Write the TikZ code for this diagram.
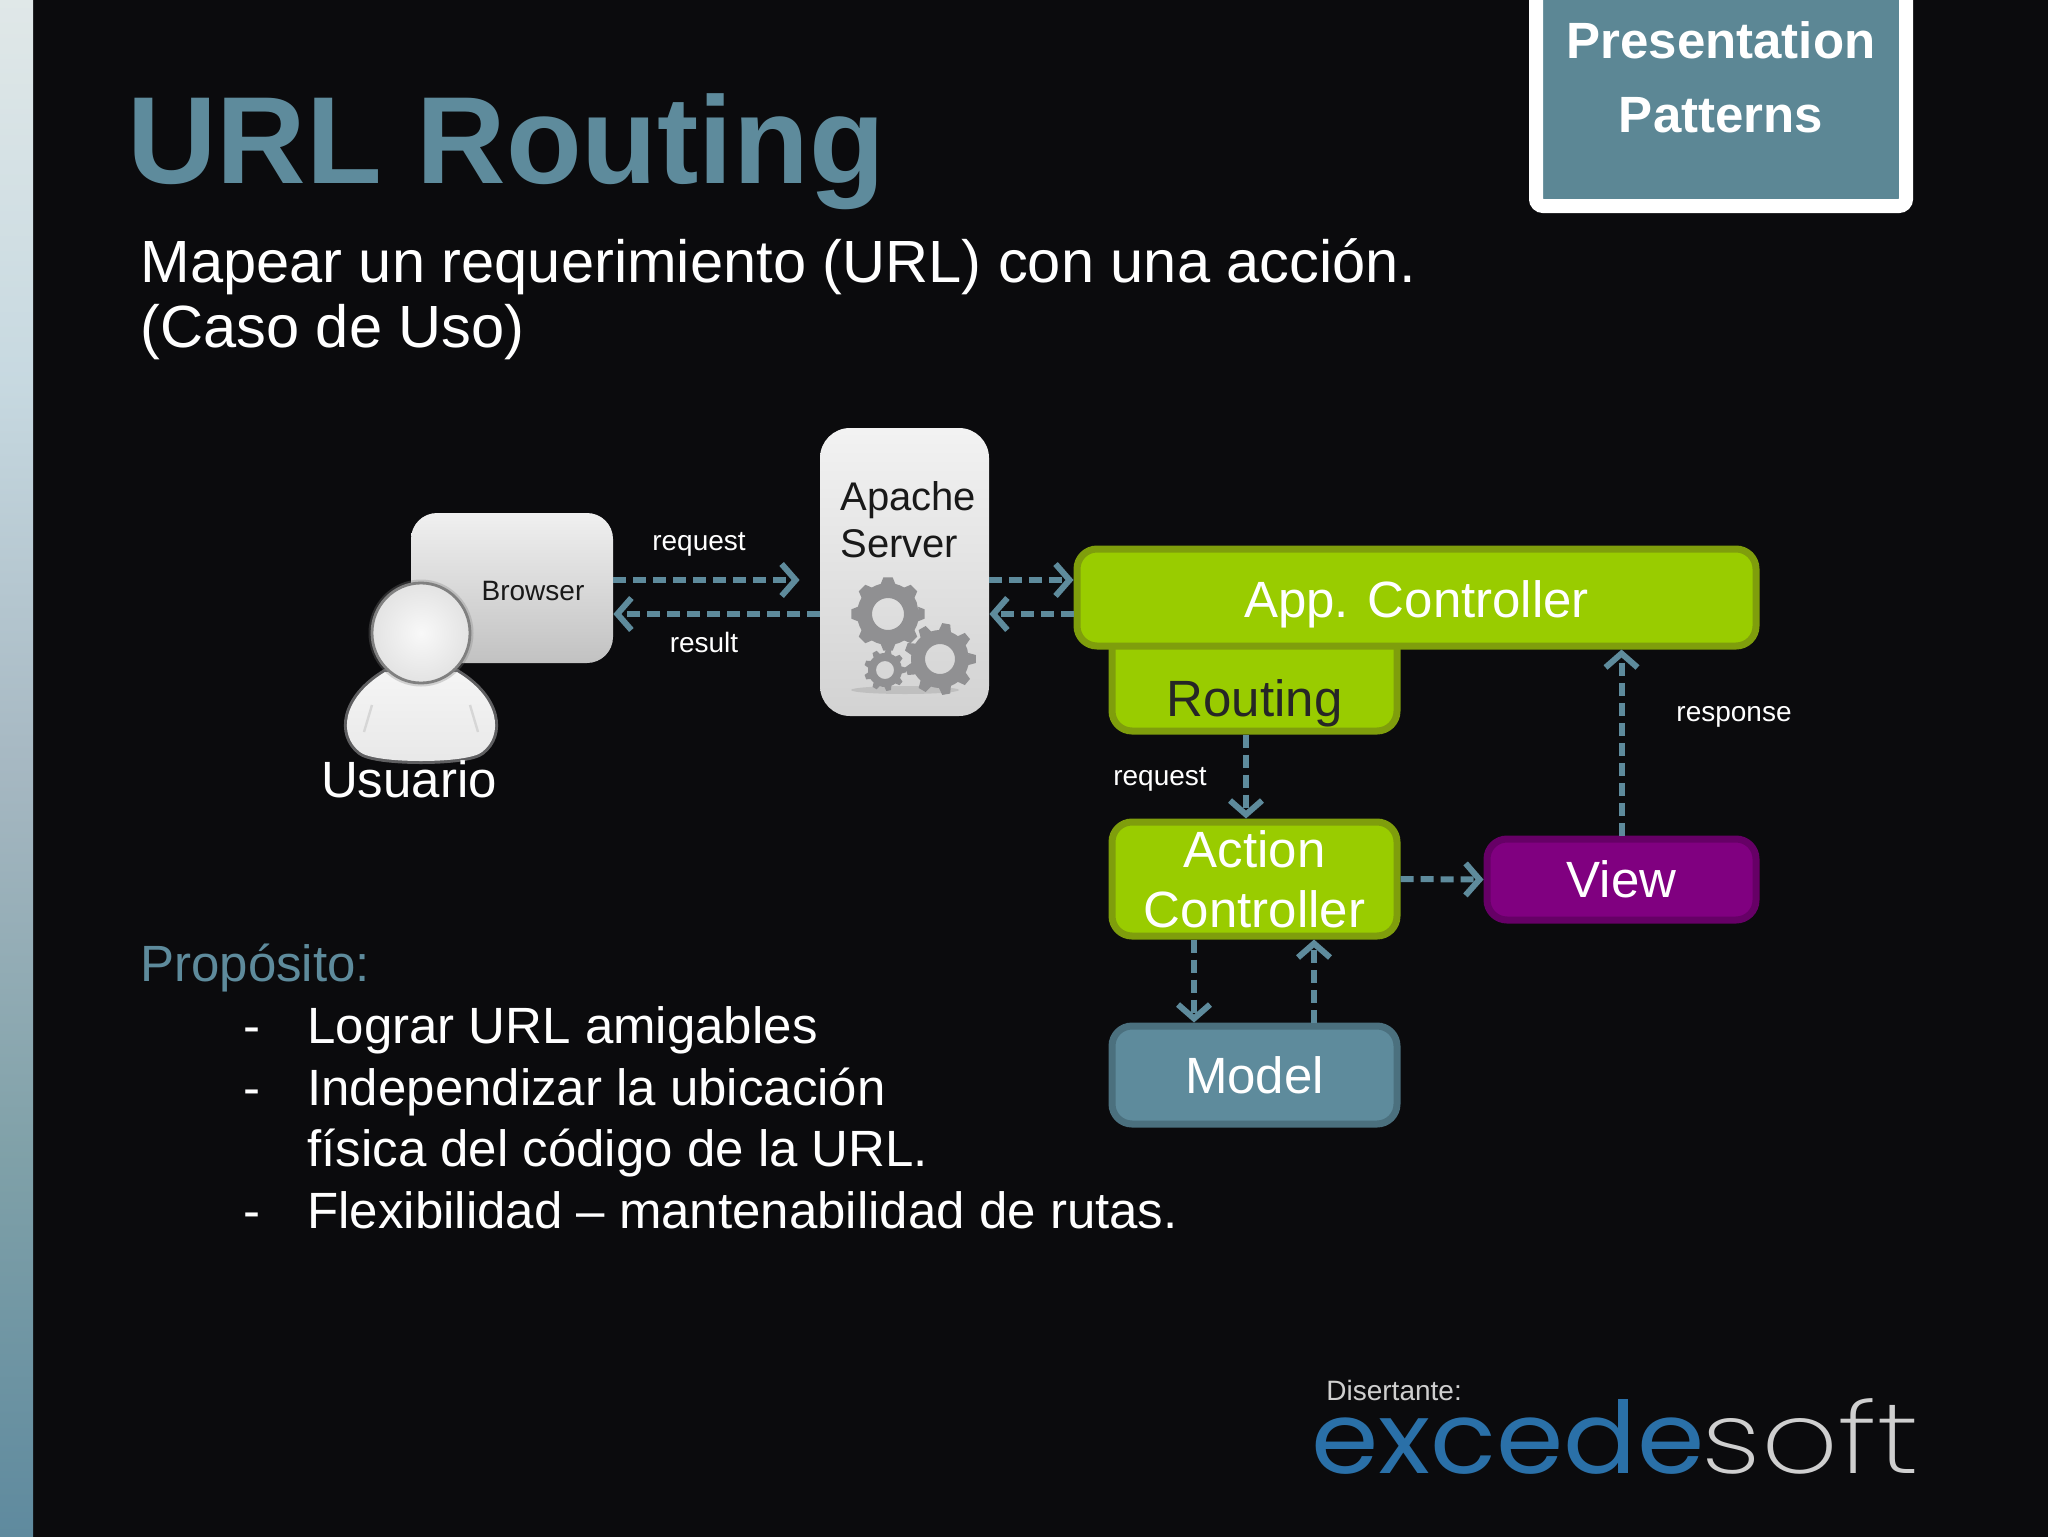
\documentclass[tikz,border=0pt]{standalone}
\usepackage{fontspec}
\setmainfont{Liberation Sans}
\newfontfamily\logoblue{Poppins}
\newfontfamily\logogray{Poppins ExtraLight}
\usetikzlibrary{arrows.meta,calc}
\definecolor{bgc}{HTML}{0B0B0D}
\definecolor{teal}{HTML}{5E8B9C}
\definecolor{presc}{HTML}{5C8795}
\definecolor{tealdk}{HTML}{4B707E}
\definecolor{lime}{HTML}{99CC00}
\definecolor{limedk}{HTML}{7F9E0C}
\definecolor{purp}{HTML}{800080}
\definecolor{purpdk}{HTML}{660066}
\definecolor{logob}{HTML}{2A70A8}
\definecolor{gearc}{HTML}{909092}
\pgfdeclareverticalshading{stripshade}{100bp}{%
  rgb(0bp)=(0.37,0.54,0.62); rgb(25bp)=(0.37,0.54,0.62);
  rgb(37.5bp)=(0.50,0.63,0.66); rgb(50bp)=(0.65,0.72,0.76);
  rgb(62.5bp)=(0.78,0.85,0.88); rgb(75bp)=(0.88,0.91,0.91); rgb(100bp)=(0.88,0.91,0.91)}
\newcommand{\fs}[1]{\fontsize{#1pt}{1.2\dimexpr#1pt\relax}\selectfont}
% gear: centre x, y, outer radius, inner radius, hole radius, teeth step
\newcommand{\gearshape}[6]{%
  \begin{scope}[shift={(#1,#2)}]
    \fill[gearc,even odd rule] (0:#4)
      \foreach \a in {0,#6,...,359} {
        -- (\a-0.30*#6:#4) -- (\a-0.16*#6:#3) -- (\a+0.16*#6:#3) -- (\a+0.30*#6:#4) -- (\a+0.5*#6:#4)
      } -- cycle (0,0) circle[radius=#5];
  \end{scope}}
\tikzset{
  x=0.5pt,y=-0.5pt,
  box/.style={draw,line width=3.5pt,rounded corners=10pt,inner sep=0pt,align=center,font=\fs{25.5},text=white},
  greybox/.style={inner sep=0pt,align=center,text=black},
  lbl/.style={inner sep=0pt,text=white,font=\fs{14}},
  bodytxt/.style={inner sep=0pt,anchor=base west,text=white,font=\fs{25.5}},
  flow/.style={teal,line width=3pt,dash pattern=on 6.5pt off 3.5pt,
    -{Straight Barb[length=7pt,width=16pt,line width=3pt]}},
}
\begin{document}
\begin{tikzpicture}
\useasboundingbox (0,0) rectangle (2048,1536);
\fill[bgc] (-6,-6) rectangle (2054,1542);
\shade[shading=stripshade] (-6,-6) rectangle (33,1542);

% title
\node[inner sep=0pt,anchor=base west,text=teal,font=\bfseries\fs{62}] (title) at (127,183) {URL Routing};
\node[draw=white,fill=presc,line width=7pt,rounded corners=3.5pt,
  minimum width=185pt,minimum height=116pt,inner sep=0pt] (pres) at (1721,90) {};
\node[inner sep=0pt,align=center,text=white,font=\bfseries\fontsize{25.5}{37pt}\selectfont] (prestxt) at (1721,77) {Presentation\\Patterns};

% subtitle
\node[bodytxt,font=\fs{29.8}] (sub1) at (140,282) {Mapear un requerimiento (URL) con una acción.};
\node[bodytxt,font=\fs{29.8}] (sub2) at (140,347) {(Caso de Uso)};

% browser and user
\node[greybox,top color=white!88!gray,middle color=white!78!gray,bottom color=white!52!gray,rounded corners=13pt,minimum width=101pt,minimum height=75pt] (browser) at (512,588) {};
\node[lbl,text=black!90] (browsertxt) at (533,591) {Browser};
\node[inner sep=0pt,text=white,font=\fs{25.5}] (usuario) at (409,779) {Usuario};
\draw[white!75!gray,opacity=.4,line width=3pt]
  (360,752) .. controls (338,735) and (342,698) .. (385,672) -- (457,672)
  .. controls (500,698) and (504,735) .. (482,752) .. controls (468,764) and (374,764) .. (360,752) -- cycle;
\shade[top color=white!92!gray,bottom color=white!82!gray]
  (360,752) .. controls (338,735) and (342,698) .. (385,672) -- (457,672)
  .. controls (500,698) and (504,735) .. (482,752) .. controls (468,764) and (374,764) .. (360,752) -- cycle;
\draw[white!68!gray,line width=1.2pt] (364,732) -- (372,705) (478,732) -- (470,705);
\draw[gray,opacity=.3,line width=3.5pt] (421,633) ellipse[x radius=49,y radius=50];
\shade[inner color=white!95!gray,outer color=white!78!gray,draw=gray,line width=1.4pt]
  (421,633) ellipse[x radius=49,y radius=50];

% apache
\node[greybox,top color=white!90!gray,bottom color=white!65!gray,rounded corners=15pt,minimum width=84.5pt,minimum height=144pt] (apache) at (904.5,572) {};
\node[inner sep=0pt,align=left,text=black!90,font=\fontsize{20}{23.5pt}\selectfont,anchor=base west] (apachetxt) at (840,557) {Apache\\Server};
\fill[gray,opacity=.25] (905,690) ellipse[x radius=54,y radius=4];
\gearshape{888}{614}{37}{31}{16}{45}
\gearshape{940}{659}{36}{29}{15}{40}
\gearshape{885}{670}{21}{17}{9}{40}

% boxes
\node[box,draw=limedk,fill=lime,minimum width=142.5pt,minimum height=54pt] (routing) at (1254.5,677) {};
\node[inner sep=0pt,text=black!85,font=\fs{25.5}] (routingtxt) at (1254.5,703) {Routing};
\node[box,draw=limedk,fill=lime,minimum width=339.5pt,minimum height=48.5pt] (app) at (1416.5,597.5) {\raisebox{-10pt}[0pt][0pt]{App. Controller}};
\node[box,draw=limedk,fill=lime,minimum width=142.5pt,minimum height=57pt,font=\fontsize{25.5}{30pt}\selectfont] (action) at (1254.5,879) {Action\\Controller};
\node[box,draw=purpdk,fill=purp,minimum width=134.5pt,minimum height=40.5pt] (view) at (1621.5,879.5) {View};
\node[box,draw=tealdk,fill=teal,minimum width=142.5pt,minimum height=49pt] (model) at (1254.5,1075) {Model};

% connectors
\coordinate (upper) at (0,580);
\coordinate (lower) at (0,614);
\draw[flow,shorten >=10pt] (browser.east |- upper) -- (apache.west |- upper);
\draw[flow] (apache.west |- lower) -- (browser.east |- lower);
\draw[flow] (apache.east |- upper) -- (app.west |- upper);
\draw[flow] (app.west |- lower) -- (apache.east |- lower);
\draw[flow] ([xshift=-4.25pt]routing.south) -- ([xshift=-4.25pt]action.north);
\draw[flow] (action.east) -- (view.west);
\draw[flow] ([xshift=-30.25pt]action.south) -- ([xshift=-30.25pt]model.north);
\draw[flow] ([xshift=29.75pt]model.north) -- ([xshift=29.75pt]action.south);
\draw[flow] (view.north) -- (app.south -| view.north);

% connector labels
\node[lbl] (reqa) at (699,544) {request};
\node[lbl] (resa) at (704,642) {result};
\node[lbl] (reqb) at (1160,779) {request};
\node[lbl] (respb) at (1734,717) {response};

% purpose
\node[bodytxt,text=teal] (prop) at (140,981) {Propósito:};
\node[bodytxt] (d1) at (243,1043) {-};
\node[bodytxt] (t1) at (307,1043) {Lograr URL amigables};
\node[bodytxt] (d2) at (243,1105) {-};
\node[bodytxt] (t2) at (307,1105) {Independizar la ubicación};
\node[bodytxt] (t3) at (307,1166) {física del código de la URL.};
\node[bodytxt] (d3) at (243,1228) {-};
\node[bodytxt] (t4) at (307,1228) {Flexibilidad – mantenabilidad de rutas.};

% logo
\node[inner sep=0pt,anchor=base west,text=white!62!gray,font=\fs{14}] (dis) at (1326,1400) {Disertante:};
\node[inner sep=0pt,anchor=base west,text=logob,font=\logoblue\fontsize{50}{50}\selectfont] at (1311,1473) (exc) {\scalebox{1.085}[1]{excede}};
\node[inner sep=0pt,anchor=base west,text=white!62!gray,font=\logogray\fontsize{50}{50}\selectfont] at (1701,1473) (soft) {\scalebox{1.2}[1]{soft}};
\end{tikzpicture}
\end{document}
